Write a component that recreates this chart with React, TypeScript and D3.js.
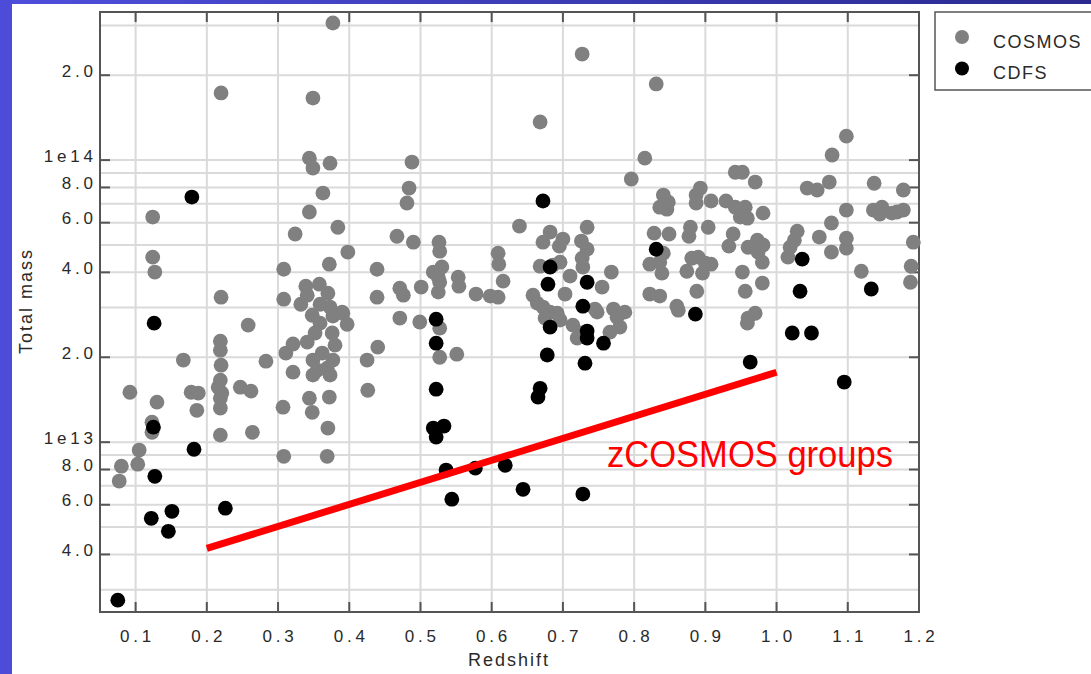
import React from "react";
import * as d3 from "d3";

// ---- data (redshift, log10 total mass) ----
const cosmos: [number, number][] = [
  [0.377, 14.486], [0.22, 14.238], [0.349, 14.22], [0.344, 14.007], [0.349, 13.972], [0.373, 13.989],
  [0.363, 13.883], [0.124, 13.798], [0.344, 13.816], [0.384, 13.762], [0.324, 13.738], [0.398, 13.674],
  [0.124, 13.656], [0.127, 13.603], [0.308, 13.613], [0.372, 13.631], [0.439, 13.613], [0.22, 13.514],
  [0.308, 13.507], [0.439, 13.514], [0.339, 13.553], [0.358, 13.56], [0.37, 13.528], [0.341, 13.521],
  [0.332, 13.489], [0.359, 13.489], [0.373, 13.479], [0.39, 13.461], [0.348, 13.45], [0.377, 13.447],
  [0.258, 13.415], [0.219, 13.358], [0.219, 13.326], [0.321, 13.348], [0.311, 13.316], [0.167, 13.291],
  [0.22, 13.273], [0.283, 13.287], [0.321, 13.248], [0.092, 13.177], [0.178, 13.177], [0.188, 13.174],
  [0.219, 13.22], [0.216, 13.195], [0.221, 13.174], [0.219, 13.156], [0.247, 13.195], [0.262, 13.181],
  [0.13, 13.142], [0.186, 13.113], [0.219, 13.121], [0.307, 13.124], [0.219, 13.025], [0.264, 13.035],
  [0.123, 13.071], [0.123, 13.035], [0.105, 12.972], [0.103, 12.922], [0.08, 12.915], [0.077, 12.862],
  [0.308, 12.95], [0.369, 12.95], [0.352, 13.387], [0.376, 13.387], [0.359, 13.422], [0.397, 13.418],
  [0.391, 13.457], [0.341, 13.355], [0.38, 13.344], [0.362, 13.316], [0.349, 13.291], [0.377, 13.291],
  [0.369, 13.262], [0.355, 13.255], [0.349, 13.238], [0.373, 13.238], [0.425, 13.291], [0.44, 13.337],
  [0.426, 13.184], [0.372, 13.16], [0.344, 13.156], [0.348, 13.106], [0.37, 13.05],
  [0.727, 14.376], [0.668, 14.135], [0.488, 13.993], [0.484, 13.901], [0.481, 13.848], [0.815, 14.007],
  [0.796, 13.933], [0.639, 13.766], [0.682, 13.745], [0.672, 13.709], [0.7, 13.72], [0.695, 13.695],
  [0.734, 13.762], [0.726, 13.713], [0.734, 13.684], [0.467, 13.73], [0.49, 13.709], [0.526, 13.709],
  [0.527, 13.677], [0.518, 13.603], [0.53, 13.621], [0.525, 13.585], [0.527, 13.567], [0.525, 13.532],
  [0.553, 13.585], [0.554, 13.553], [0.609, 13.67], [0.61, 13.631], [0.616, 13.571], [0.501, 13.55],
  [0.471, 13.546], [0.476, 13.521], [0.578, 13.525], [0.598, 13.518], [0.609, 13.514], [0.471, 13.44],
  [0.499, 13.426], [0.527, 13.404], [0.527, 13.301], [0.551, 13.312], [0.668, 13.624], [0.686, 13.628],
  [0.696, 13.638], [0.727, 13.652], [0.728, 13.621], [0.71, 13.589], [0.768, 13.603], [0.755, 13.55],
  [0.703, 13.525], [0.658, 13.521], [0.664, 13.493], [0.672, 13.479], [0.682, 13.461], [0.692, 13.457],
  [0.745, 13.472], [0.771, 13.472], [0.787, 13.461], [0.675, 13.44], [0.696, 13.433], [0.714, 13.415],
  [0.724, 13.387], [0.72, 13.369], [0.78, 13.408], [0.766, 13.39], [0.776, 13.443], [0.748, 13.461],
  [0.831, 14.27], [1.098, 14.085], [1.078, 14.018], [0.942, 13.957], [0.952, 13.957], [0.97, 13.922],
  [0.893, 13.901], [0.887, 13.876], [0.887, 13.848], [0.841, 13.876], [0.848, 13.851], [0.836, 13.833],
  [0.846, 13.826], [0.908, 13.855], [0.929, 13.855], [0.942, 13.833], [0.956, 13.833], [0.949, 13.798],
  [0.959, 13.794], [0.981, 13.812], [1.043, 13.901], [1.057, 13.894], [1.074, 13.922], [1.098, 13.823],
  [1.077, 13.777], [1.137, 13.918], [1.178, 13.894], [1.136, 13.823], [1.148, 13.833], [1.145, 13.809],
  [1.162, 13.812], [1.178, 13.823], [1.169, 13.816], [0.828, 13.741], [0.849, 13.738], [0.879, 13.762],
  [0.877, 13.73], [0.904, 13.762], [0.939, 13.738], [0.933, 13.695], [0.96, 13.691], [0.973, 13.716],
  [0.981, 13.699], [0.974, 13.674], [0.98, 13.638], [1.029, 13.748], [1.025, 13.716], [1.019, 13.691],
  [1.016, 13.656], [1.06, 13.727], [1.077, 13.674], [1.098, 13.723], [1.098, 13.688], [1.192, 13.709],
  [1.189, 13.624], [1.188, 13.567], [0.841, 13.67], [0.836, 13.638], [0.822, 13.631], [0.839, 13.599],
  [0.881, 13.652], [0.89, 13.656], [0.9, 13.635], [0.908, 13.631], [0.896, 13.599], [0.874, 13.606],
  [0.952, 13.603], [0.888, 13.535], [0.822, 13.525], [0.836, 13.518], [0.86, 13.482], [0.956, 13.535],
  [0.98, 13.564], [0.97, 13.457], [0.96, 13.44], [1.119, 13.606], [0.862, 13.468], [0.959, 13.422],
];

const cdfs: [number, number][] = [
  [0.179, 13.869], [0.126, 13.422], [0.125, 13.053], [0.182, 12.975], [0.127, 12.879], [0.226, 12.766],
  [0.151, 12.755], [0.122, 12.73], [0.146, 12.684], [0.075, 12.44], [0.672, 13.855], [0.682, 13.621],
  [0.679, 13.56], [0.734, 13.567], [0.728, 13.482], [0.682, 13.408], [0.678, 13.309], [0.668, 13.191],
  [0.665, 13.16], [0.734, 13.394], [0.734, 13.369], [0.757, 13.351], [0.731, 13.28], [0.522, 13.436],
  [0.522, 13.351], [0.522, 13.188], [0.518, 13.05], [0.533, 13.057], [0.522, 13.018], [0.536, 12.901],
  [0.577, 12.908], [0.619, 12.918], [0.544, 12.798], [0.644, 12.833], [0.728, 12.816], [0.831, 13.684],
  [0.886, 13.454], [1.036, 13.649], [1.033, 13.535], [1.133, 13.543], [1.022, 13.387], [1.049, 13.387],
  [0.963, 13.284], [1.095, 13.213],
];

// annotation line: redshift / mass endpoints
const groupsLine: [number, number][] = [[0.2, 4.2e12], [1.0, 1.77e13]];
const groupsLabel = "zCOSMOS groups";

const xTicks = [0.1, 0.2, 0.3, 0.4, 0.5, 0.6, 0.7, 0.8, 0.9, 1.0, 1.1, 1.2];
const yTickValues = [2e14, 1e14, 8e13, 6e13, 4e13, 2e13, 1e13, 8e12, 6e12, 4e12];
const yTickLabels = ["2.0", "1e14", "8.0", "6.0", "4.0", "2.0", "1e13", "8.0", "6.0", "4.0"];
const legendItems = [
  { name: "COSMOS", color: "#808080" },
  { name: "CDFS", color: "#000000" },
];

const FONT = "'Liberation Sans', Arial, Helvetica, sans-serif";
const W = 1091;
const H = 674;

export default function App() {
  const L = 100, R = 919, T = 12, B = 612;
  const x = d3.scaleLinear().domain([0.05, 1.2]).range([L, R]);
  const y = d3.scaleLog().domain([2.5e12, 3.35e14]).range([B, T]);

  const gridY: number[] = [];
  for (const e of [12, 13, 14]) {
    for (let m = 1; m <= 9; m++) {
      const v = m * Math.pow(10, e);
      if (v >= 2.5e12 && v <= 3.35e14) gridY.push(v);
    }
  }
  const line = d3.line<[number, number]>().x((d) => x(d[0])).y((d) => y(d[1]));
  const r = 7.4;
  const tickLS = 3.8;
  const axisColor = "#555";

  return (
    <svg width={W} height={H} style={{ position: "absolute", left: 0, top: 0, display: "block" }}>
      <defs>
        <linearGradient id="topband" x1="0" x2="1" y1="0" y2="0">
          <stop offset="0" stopColor="#4e4edc" />
          <stop offset="1" stopColor="#2a2a90" />
        </linearGradient>
      </defs>
      <rect x={0} y={0} width={W} height={H} fill="#ffffff" />
      <rect x={0} y={0} width={W} height={4} fill="url(#topband)" />
      <rect x={0} y={0} width={12} height={H} fill="#4c4cd8" />

      {/* grid */}
      <g stroke="#dadada" strokeWidth={2}>
        {xTicks.map((t) => (
          <line key={"gx" + t} x1={x(t)} x2={x(t)} y1={T} y2={B} />
        ))}
        {gridY.map((v) => (
          <line key={"gy" + v} x1={L} x2={R} y1={y(v)} y2={y(v)} />
        ))}
      </g>

      {/* frame and ticks */}
      <rect x={L} y={T} width={R - L} height={B - T} fill="none" stroke={axisColor} strokeWidth={2} />
      <g stroke={axisColor} strokeWidth={2}>
        {xTicks.map((t) => (
          <g key={"tx" + t}>
            <line x1={x(t)} x2={x(t)} y1={B} y2={B - 10} />
            <line x1={x(t)} x2={x(t)} y1={T} y2={T + 10} />
          </g>
        ))}
        {yTickValues.map((v, i) => (
          <g key={"ty" + i}>
            <line x1={L} x2={L + 10} y1={y(v)} y2={y(v)} />
            <line x1={R} x2={R - 10} y1={y(v)} y2={y(v)} />
          </g>
        ))}
      </g>

      {/* tick labels */}
      <g fontFamily={FONT} fontSize={17} fill="#2a2a2a" letterSpacing={tickLS}>
        {xTicks.map((t) => (
          <text key={"lx" + t} x={x(t) + tickLS / 2} y={641.5} textAnchor="middle">
            {t.toFixed(1)}
          </text>
        ))}
        {yTickValues.map((v, i) => (
          <text key={"ly" + i} x={93 + tickLS} y={y(v) + 1.5} textAnchor="end">
            {yTickLabels[i]}
          </text>
        ))}
      </g>

      {/* axis titles */}
      <text x={508 + 1} y={666} textAnchor="middle" fontFamily={FONT} fontSize={18} letterSpacing={2} fill="#2a2a2a">
        Redshift
      </text>
      <text
        transform={`translate(32,${301}) rotate(-90)`}
        textAnchor="middle"
        fontFamily={FONT}
        fontSize={18}
        letterSpacing={2}
        fill="#2a2a2a"
      >
        Total mass
      </text>

      {/* points */}
      <g fill="#808080">
        {cosmos.map((d, i) => (
          <circle key={"c" + i} cx={x(d[0])} cy={y(Math.pow(10, d[1]))} r={r} />
        ))}
      </g>
      <g fill="#000000">
        {cdfs.map((d, i) => (
          <circle key={"d" + i} cx={x(d[0])} cy={y(Math.pow(10, d[1]))} r={r} />
        ))}
      </g>

      {/* annotation */}
      <path d={line(groupsLine) || ""} stroke="#ff0000" strokeWidth={7} fill="none" />
      <text x={607} y={467} fontFamily={FONT} fontSize={36} fill="#ff0000" textLength={286} lengthAdjust="spacingAndGlyphs">
        {groupsLabel}
      </text>

      {/* legend */}
      <rect x={935} y={12} width={170} height={78} fill="#fff" stroke={axisColor} strokeWidth={1.5} />
      {legendItems.map((it, i) => (
        <g key={it.name}>
          <circle cx={962} cy={37 + i * 31.5} r={7} fill={it.color} />
          <text x={993} y={48 + i * 31} fontFamily={FONT} fontSize={18} letterSpacing={1.5} fill="#2a2a2a">
            {it.name}
          </text>
        </g>
      ))}
    </svg>
  );
}
